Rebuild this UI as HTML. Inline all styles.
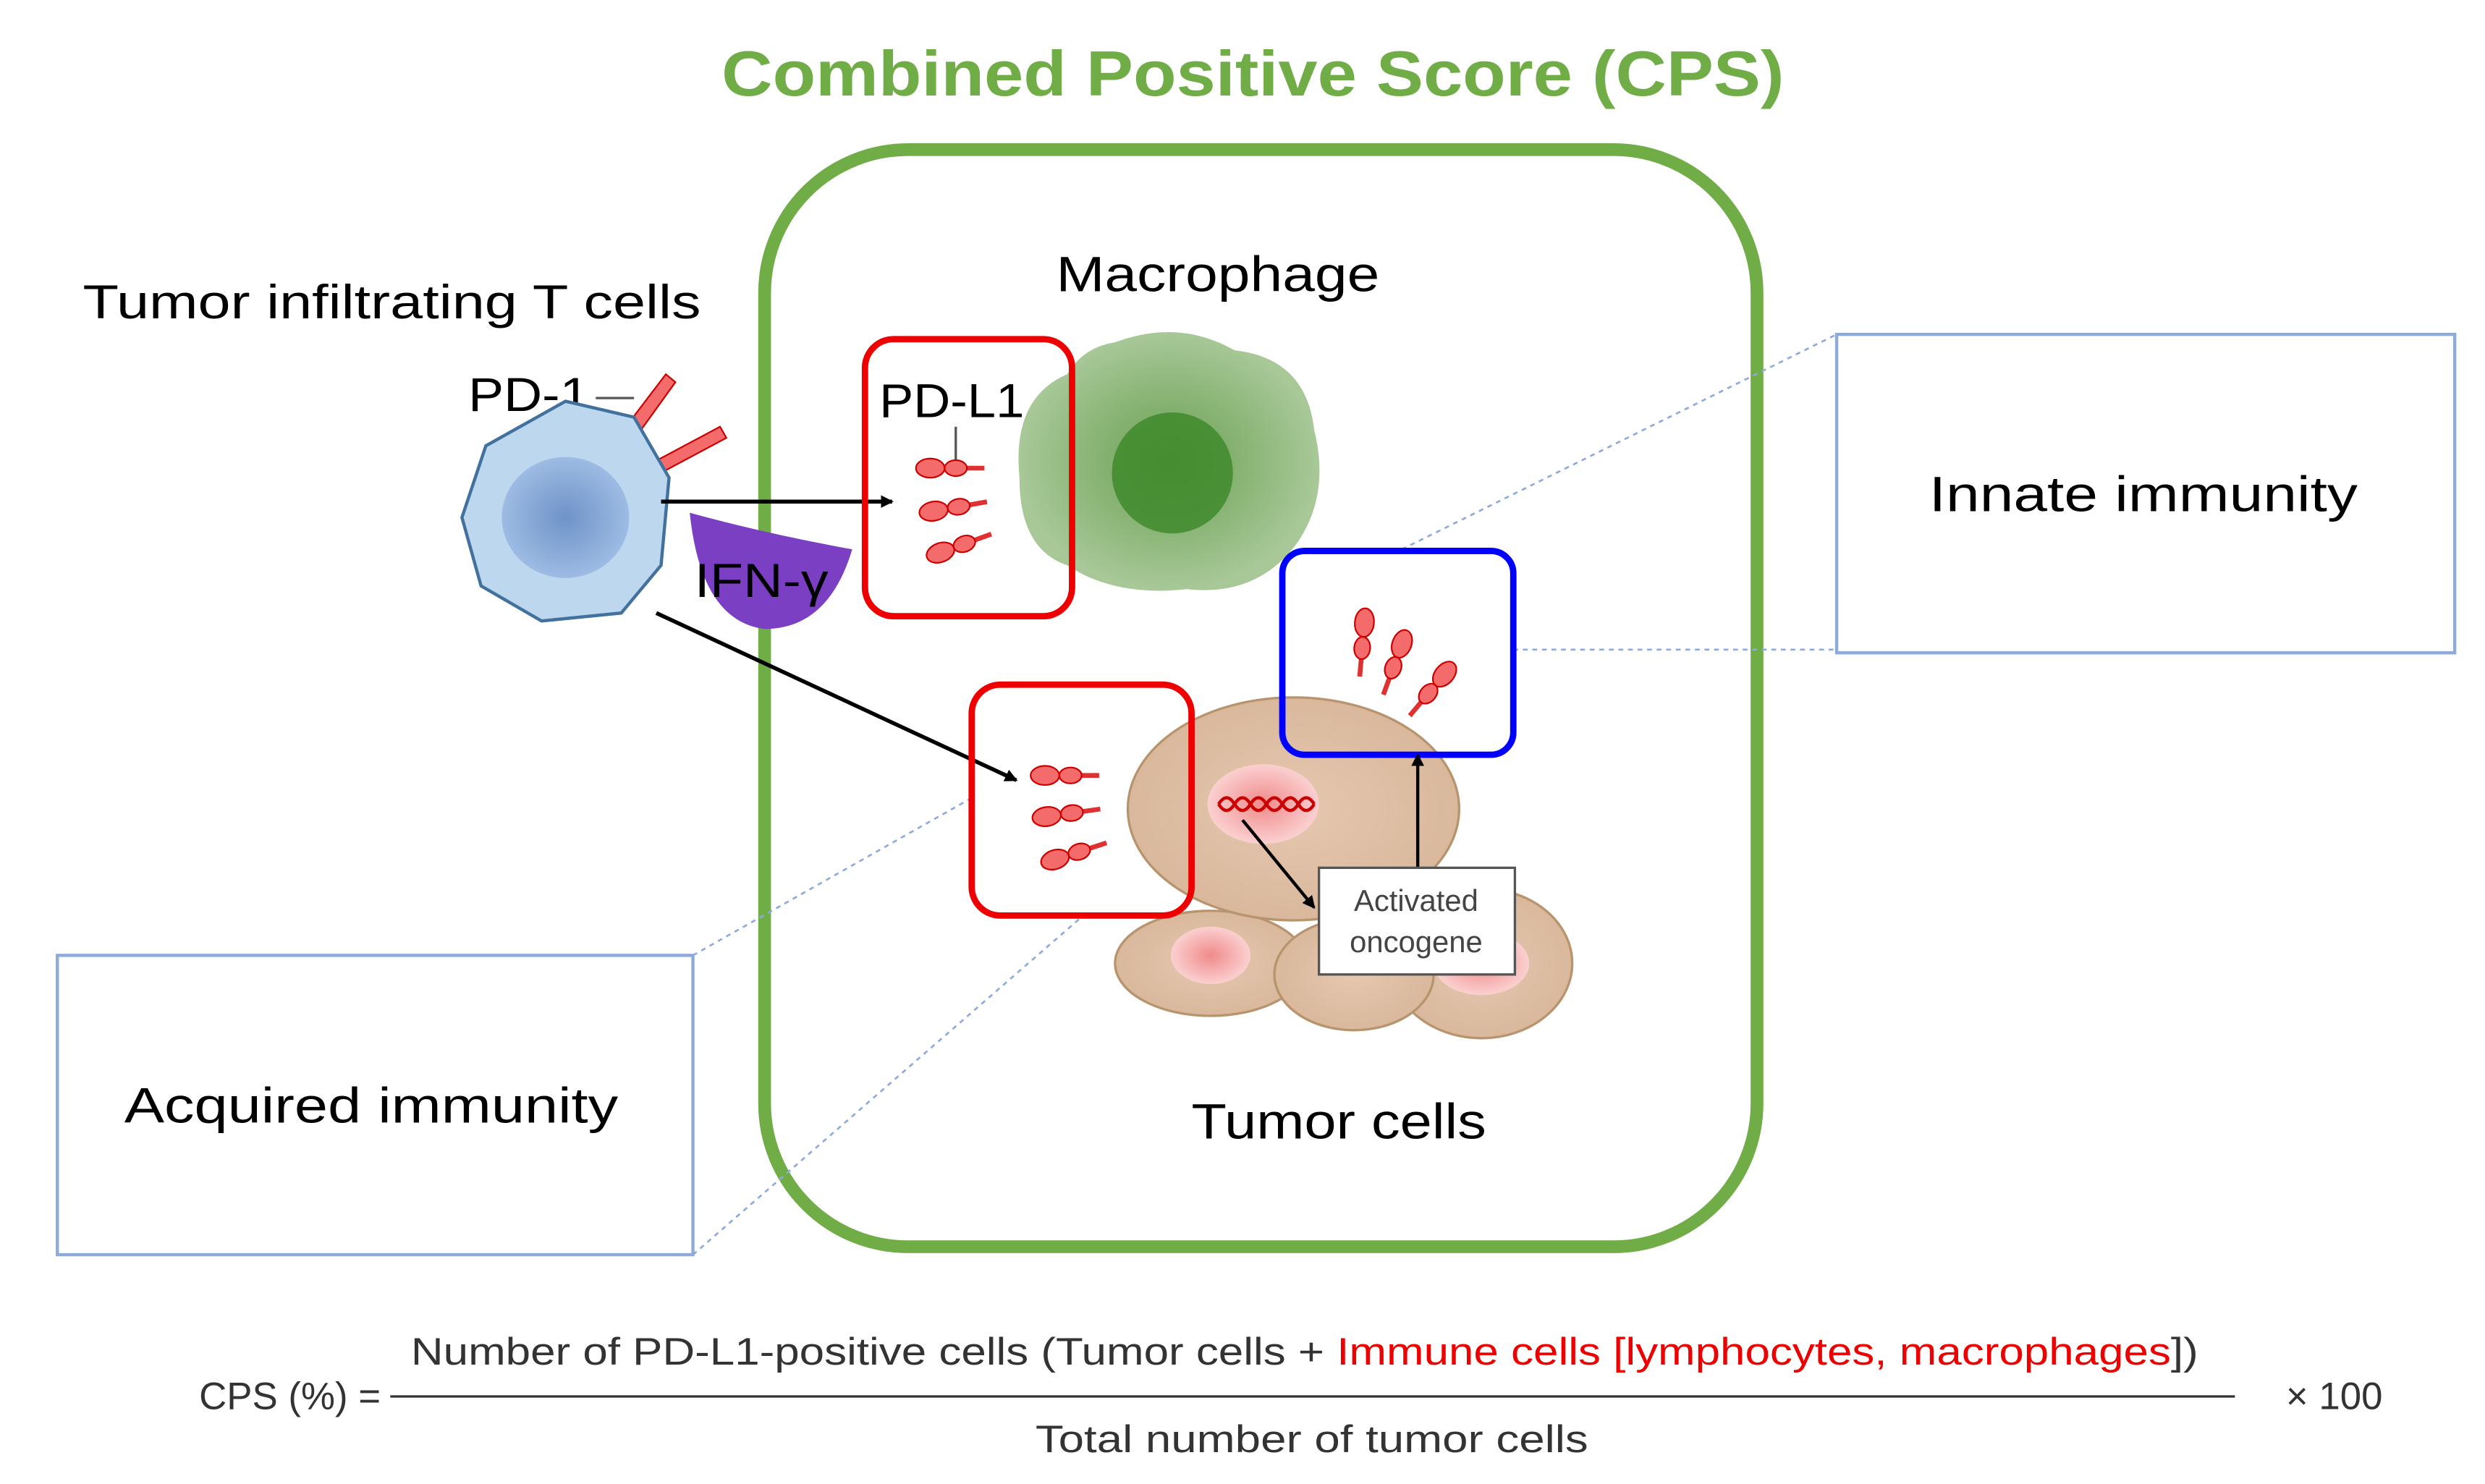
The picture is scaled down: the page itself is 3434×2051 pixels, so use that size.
<!DOCTYPE html>
<html><head><meta charset="utf-8"><style>
html,body{margin:0;padding:0;background:#fff}
svg{display:block}
text{font-family:"Liberation Sans",sans-serif}
</style></head><body>
<svg width="3434" height="2051" viewBox="0 0 1560 932" preserveAspectRatio="none" xmlns="http://www.w3.org/2000/svg">
<defs>
<marker id="ah" markerWidth="8" markerHeight="8" refX="7" refY="4" orient="auto" markerUnits="userSpaceOnUse"><path d="M0,0 L8,4 L0,8 z" fill="#000"/></marker>
<radialGradient id="tc" cx="0.5" cy="0.5" r="0.5"><stop offset="0" stop-color="#6f93c8"/><stop offset="1" stop-color="#9dbbe3"/></radialGradient>
<radialGradient id="mg" cx="0.5" cy="0.5" r="0.5"><stop offset="0" stop-color="#6aa052"/><stop offset="1" stop-color="#a8c898"/></radialGradient>
<radialGradient id="pk" cx="0.5" cy="0.5" r="0.5"><stop offset="0" stop-color="#f08a8a"/><stop offset="1" stop-color="#fbd0d0"/></radialGradient>
<radialGradient id="bg" cx="0.5" cy="0.5" r="0.5"><stop offset="0" stop-color="#e6c8b0"/><stop offset="1" stop-color="#d9b89c"/></radialGradient>
<g id="rc"><line x1="0" y1="0" x2="28" y2="0" stroke="#e03030" stroke-width="3"/><ellipse cx="-6" cy="0" rx="9" ry="6" fill="#f36b6b" stroke="#c00" stroke-width="1"/><ellipse cx="10" cy="0" rx="7" ry="5" fill="#f36b6b" stroke="#c00" stroke-width="1"/></g>
</defs>
<text x="453" y="60" textLength="667" lengthAdjust="spacingAndGlyphs" font-size="40" font-weight="bold" fill="#70ad47">Combined Positive Score (CPS)</text>
<rect x="480" y="94" width="623" height="689" rx="90" fill="none" stroke="#70ad47" stroke-width="8"/>
<g stroke="#8eaadb" stroke-width="1.2" stroke-dasharray="3,3" fill="none">
<line x1="880" y1="345" x2="1153" y2="210"/><line x1="950" y1="408" x2="1153" y2="408"/>
<line x1="435" y1="600" x2="612" y2="500"/><line x1="435" y1="788" x2="680" y2="575"/>
</g>
<rect x="1153" y="210" width="388" height="200" fill="#fff" stroke="#8eaadb" stroke-width="2"/>
<text x="1211" y="321" textLength="269" lengthAdjust="spacingAndGlyphs" font-size="31">Innate immunity</text>
<rect x="36" y="600" width="399" height="188" fill="#fff" stroke="#8eaadb" stroke-width="2"/>
<text x="78" y="705" textLength="310" lengthAdjust="spacingAndGlyphs" font-size="31">Acquired immunity</text>
<text x="52" y="200" textLength="388" lengthAdjust="spacingAndGlyphs" font-size="30">Tumor infiltrating T cells</text>
<text x="294" y="258" textLength="76" lengthAdjust="spacingAndGlyphs" font-size="30">PD-1</text>
<line x1="374" y1="250" x2="398" y2="250" stroke="#555" stroke-width="1.5"/>
<g fill="#f36b6b" stroke="#c00" stroke-width="1">
<path d="M380,285 L418,235 L424,240 L388,290 z"/><path d="M392,300 L452,268 L456,275 L398,306 z"/>
</g>
<polygon points="355,252 398,262 420,300 415,355 390,385 340,390 302,368 290,325 305,280" fill="#bdd7ee" stroke="#41719c" stroke-width="2"/>
<ellipse cx="355" cy="325" rx="40" ry="38" fill="url(#tc)"/>
<path d="M433,322 Q480,335 535,345 Q520,395 480,395 Q440,390 433,322 z" fill="#7b3fc4"/>
<text x="436" y="375" textLength="84" lengthAdjust="spacingAndGlyphs" font-size="30" fill="#000">IFN-γ</text>
<line x1="415" y1="315" x2="560" y2="315" stroke="#000" stroke-width="2.5" marker-end="url(#ah)"/>
<line x1="412" y1="385" x2="638" y2="490" stroke="#000" stroke-width="2.5" marker-end="url(#ah)"/>
<path d="M700,215 Q740,200 775,220 Q820,225 825,270 Q835,310 815,340 Q790,375 745,370 Q700,375 670,355 Q640,345 640,300 Q635,250 670,235 Q680,218 700,215 z" fill="url(#mg)"/>
<circle cx="736" cy="297" r="38" fill="#3f8a2c" opacity="0.85"/>
<text x="663" y="183" textLength="203" lengthAdjust="spacingAndGlyphs" font-size="31">Macrophage</text>
<rect x="543" y="213" width="130" height="174" rx="18" fill="none" stroke="#e00" stroke-width="4"/>
<text x="552" y="262" textLength="91" lengthAdjust="spacingAndGlyphs" font-size="30">PD-L1</text>
<line x1="600" y1="268" x2="600" y2="290" stroke="#555" stroke-width="1.5"/>
<use href="#rc" transform="translate(590,294)"/><use href="#rc" transform="translate(592,320) rotate(-10)"/><use href="#rc" transform="translate(596,345) rotate(-20)"/>
<ellipse cx="760" cy="605" rx="60" ry="33" fill="url(#bg)" stroke="#b8946e" stroke-width="1.5"/>
<ellipse cx="930" cy="605" rx="57" ry="47" fill="url(#bg)" stroke="#b8946e" stroke-width="1.5"/>
<ellipse cx="850" cy="612" rx="50" ry="35" fill="url(#bg)" stroke="#b8946e" stroke-width="1.5"/>
<ellipse cx="812" cy="508" rx="104" ry="70" fill="url(#bg)" stroke="#b8946e" stroke-width="1.5"/>
<ellipse cx="760" cy="600" rx="25" ry="18" fill="url(#pk)"/>
<ellipse cx="930" cy="605" rx="30" ry="20" fill="url(#pk)"/>
<ellipse cx="793" cy="505" rx="35" ry="25" fill="url(#pk)"/>
<path d="M765,505 q5,-8 10,0 q5,8 10,0 q5,-8 10,0 q5,8 10,0 q5,-8 10,0 q5,8 10,0" fill="none" stroke="#c00" stroke-width="2"/>
<path d="M765,505 q5,8 10,0 q5,-8 10,0 q5,8 10,0 q5,-8 10,0 q5,8 10,0 q5,-8 10,0" fill="none" stroke="#c00" stroke-width="2"/>
<rect x="610" y="430" width="138" height="145" rx="18" fill="none" stroke="#e00" stroke-width="4"/>
<use href="#rc" transform="translate(662,487)"/><use href="#rc" transform="translate(663,512) rotate(-8)"/><use href="#rc" transform="translate(668,538) rotate(-18)"/>
<rect x="805" y="346" width="145" height="128" rx="14" fill="none" stroke="#00f" stroke-width="4"/>
<use href="#rc" transform="translate(856,397) rotate(95)"/><use href="#rc" transform="translate(878,410) rotate(110)"/><use href="#rc" transform="translate(903,428) rotate(130)"/>
<line x1="780" y1="515" x2="825" y2="570" stroke="#000" stroke-width="2" marker-end="url(#ah)"/>
<line x1="890" y1="545" x2="890" y2="474" stroke="#000" stroke-width="2" marker-end="url(#ah)"/>
<rect x="828" y="545" width="123" height="67" fill="#fff" stroke="#555" stroke-width="1.5"/>
<text x="889" y="572" text-anchor="middle" font-size="19" fill="#444">Activated</text>
<text x="889" y="598" text-anchor="middle" font-size="19" fill="#444">oncogene</text>
<text x="748" y="715" textLength="185" lengthAdjust="spacingAndGlyphs" font-size="31">Tumor cells</text>
<text x="125" y="885" font-size="24" fill="#333">CPS (%) =</text>
<text x="258" y="857" textLength="1122" lengthAdjust="spacingAndGlyphs" font-size="24" fill="#333">Number of PD-L1-positive cells (Tumor cells + <tspan fill="#e00">Immune cells [lymphocytes,  macrophages</tspan>])</text>
<line x1="245" y1="877" x2="1403" y2="877" stroke="#333" stroke-width="1.5"/>
<text x="650" y="912" textLength="347" lengthAdjust="spacingAndGlyphs" font-size="24" fill="#333">Total number of tumor cells</text>
<text x="1435" y="885" font-size="24" fill="#333">× 100</text>
</svg>
</body></html>
